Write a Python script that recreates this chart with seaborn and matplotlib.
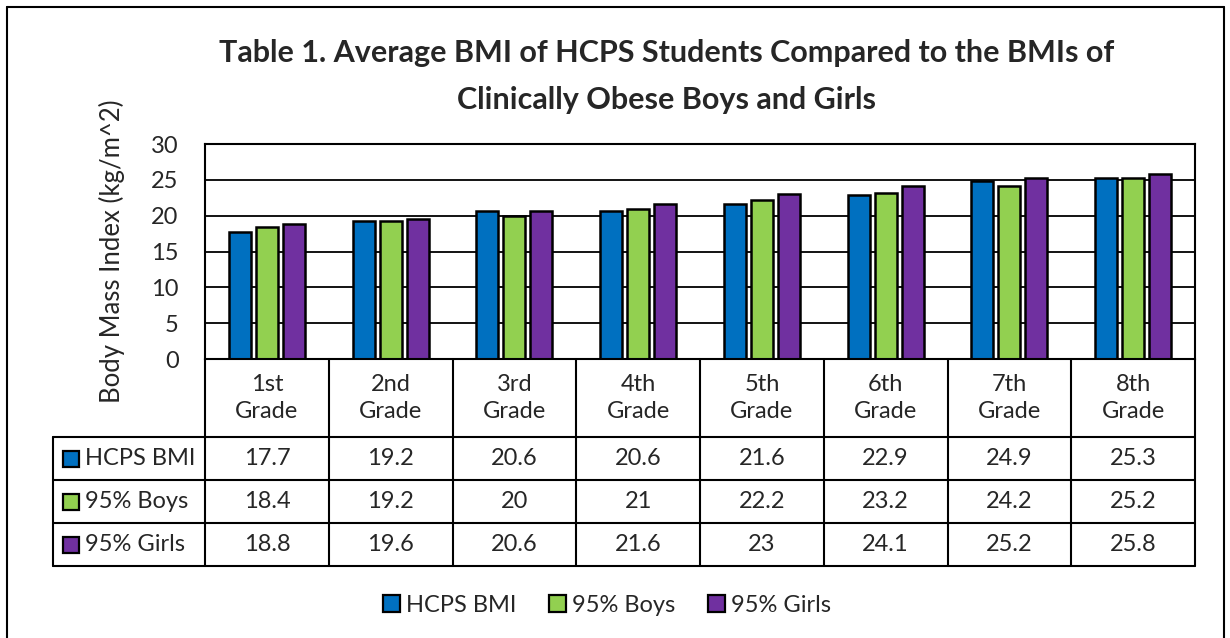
import matplotlib
matplotlib.use("Agg")
import matplotlib.pyplot as plt
import matplotlib.transforms as mtrans
from matplotlib.patches import Patch, Rectangle
from matplotlib.lines import Line2D
import seaborn as sns
import pandas as pd

# ---- data ----
grades = ["1st\nGrade", "2nd\nGrade", "3rd\nGrade", "4th\nGrade",
          "5th\nGrade", "6th\nGrade", "7th\nGrade", "8th\nGrade"]
series = ["HCPS BMI", "95% Boys", "95% Girls"]
hcps = [17.7, 19.2, 20.6, 20.6, 21.6, 22.9, 24.9, 25.3]
boys = [18.4, 19.2, 20, 21, 22.2, 23.2, 24.2, 25.2]
girls = [18.8, 19.6, 20.6, 21.6, 23, 24.1, 25.2, 25.8]
yticks = [0, 5, 10, 15, 20, 25, 30]
colors = ["#0070C0", "#92D050", "#7030A0"]
title1 = "Table 1. Average BMI of HCPS Students Compared to the BMIs of"
title2 = "Clinically Obese Boys and Girls"
ylabel = "Body Mass Index (kg/m^2)"

sns.set_style("white")
plt.rcParams['font.family'] = ['Lato', 'DejaVu Sans']

W, H = 1230, 638
FS = 17


def fx(px):
    return px / W


def fy(py):
    return 1 - py / H


fig = plt.figure(figsize=(W / 100, H / 100), dpi=100)
fig.patch.set_facecolor("white")

L, R, T, B = 205, 1195, 144, 359
ax = fig.add_axes([fx(L), fy(B), (R - L) / W, (B - T) / H])

df = pd.DataFrame({
    "Grade": grades * 3,
    "Series": [s for s in series for _ in grades],
    "BMI": hcps + boys + girls,
})
sns.barplot(data=df, x="Grade", y="BMI", hue="Series", palette=colors,
            width=0.655, gap=0.18, edgecolor="black", linewidth=1.8,
            ax=ax, legend=False, saturation=1)

ax.set_xlim(-0.5, len(grades) - 0.5)
ax.set_ylim(0, 30)
ax.set_yticks(yticks)
ax.set_yticklabels([str(t) for t in yticks], fontsize=FS)
ax.tick_params(axis="y", length=0, pad=19)
ax.tick_params(axis="x", length=0, labelbottom=False)
ax.set_xlabel("")
ax.set_ylabel("")
ax.yaxis.grid(True, color="black", linewidth=1.3)
ax.set_axisbelow(True)
for sp in ax.spines.values():
    sp.set_color("black")
    sp.set_linewidth(1.5)

fig.text(fx(112), fy(251), ylabel, rotation=90, ha="center", va="center",
         fontsize=18.5)

# ---- title ----
fig.text(fx(666.5), fy(53), title1, ha="center", va="center",
         fontsize=22, fontweight="bold")
fig.text(fx(666.5), fy(100), title2, ha="center", va="center",
         fontsize=22, fontweight="bold")

# ---- data table ----
trans = mtrans.blended_transform_factory(ax.transData, fig.transFigure)
rows = [359, 437, 480, 523, 566]
lw = 1.5
n = len(grades)
# vertical boundaries
for k in range(n + 1):
    xb = k - 0.5
    fig.add_artist(Line2D([xb, xb], [fy(rows[0]), fy(rows[-1])],
                          transform=trans, color="black", lw=lw))
# horizontal lines
for ry in rows[1:]:
    fig.add_artist(Line2D([fx(53), fx(R)], [fy(ry), fy(ry)],
                          transform=fig.transFigure, color="black", lw=lw))
fig.add_artist(Line2D([fx(53), fx(53)], [fy(rows[1]), fy(rows[-1])],
                      transform=fig.transFigure, color="black", lw=lw))

# header labels
for i, g in enumerate(grades):
    fig.text(i, fy(398), g, transform=trans, ha="center", va="center",
             fontsize=FS, linespacing=1.4)

# values
for r, (name, vals, col) in enumerate(zip(series, [hcps, boys, girls], colors)):
    cy = (rows[r + 1] + rows[r + 2]) / 2
    for i, v in enumerate(vals):
        fig.text(i, fy(cy), f"{v:g}", transform=trans, ha="center",
                 va="center", fontsize=FS)
    fig.add_artist(Rectangle((fx(63), fy(cy + 8)), 16 / W, 16 / H,
                             transform=fig.transFigure, facecolor=col,
                             edgecolor="black", lw=1.6))
    fig.text(fx(85), fy(cy), name, ha="left", va="center", fontsize=FS)

# ---- legend ----
handles = [Patch(facecolor=c, edgecolor="black", lw=1.6, label=s)
           for s, c in zip(series, colors)]
fig.legend(handles=handles, loc="center", bbox_to_anchor=(fx(607), fy(605)),
           ncol=3, frameon=False, fontsize=FS, handlelength=0.7,
           handleheight=0.7, handletextpad=0.25, columnspacing=1.4)

# ---- outer border ----
for xs, ys in [([7, 1224], [7, 7]), ([7, 7], [7, 640]), ([1224, 1224], [7, 640])]:
    fig.add_artist(Line2D([fx(x) for x in xs], [fy(y) for y in ys],
                          transform=fig.transFigure, color="black", lw=1.5))

fig.savefig("out.png", dpi=100)
